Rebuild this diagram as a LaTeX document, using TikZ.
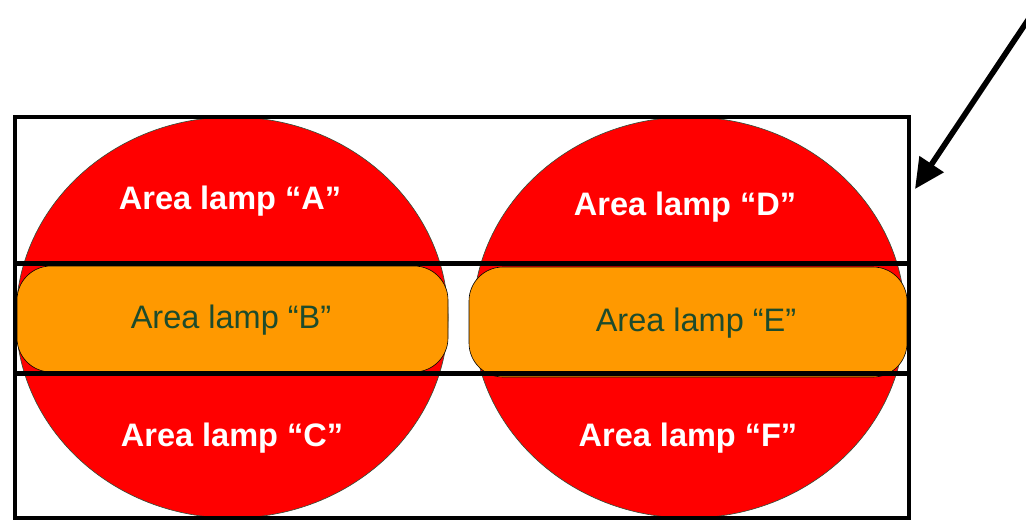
\documentclass[tikz,border=0pt]{standalone}
\usepackage{fontspec}
\setmainfont{Liberation Sans}
\usepackage{xcolor}
\usetikzlibrary{arrows.meta,shapes.geometric}
\definecolor{lampred}{HTML}{FF0000}
\definecolor{lamporange}{HTML}{FF9900}
\definecolor{lampgreen}{HTML}{1D4B2C}
\definecolor{rimgreen}{HTML}{2F4F3A}

\begin{document}
\begin{tikzpicture}[
x=1pt, y=-1pt,
lamp/.style={ellipse, draw=rimgreen, line width=0.6pt, fill=lampred, minimum width=432pt, minimum height=401pt, inner sep=0pt},
strip/.style={draw=black, line width=0.6pt, fill=lamporange, rounded corners=34pt, inner sep=0pt},
boldlbl/.style={text=white, font=\fontsize{32.5}{36}\selectfont\bfseries},
thinlbl/.style={text=lampgreen, font=\fontsize{32.5}{36}\selectfont},
frame/.style={draw=black, line width=4.6pt},
pointer/.style={-{Triangle[length=30pt, width=28pt]}, line width=5.6pt}
]
\useasboundingbox (0,0) rectangle (1026,520);
% the two round lamps
\node[lamp] (lampL) at (232,317.5) {};
\node[lamp] (lampR) at (689,317.5) {};
% middle strips
\node[strip, minimum width=431pt, minimum height=106pt] (stripL) at (232.5,319) {};
\node[strip, minimum width=438pt, minimum height=110pt] (stripR) at (688,322) {};
% labels
\node[boldlbl] (areaA) at (230,201) {Area lamp “A”};
\node[thinlbl] (areaB) at (231,320) {Area lamp “B”};
\node[boldlbl] (areaC) at (232,438) {Area lamp “C”};
\node[boldlbl] (areaD) at (685,207) {Area lamp “D”};
\node[thinlbl] (areaE) at (696,323) {Area lamp “E”};
\node[boldlbl] (areaF) at (688,438) {Area lamp “F”};
% outline and band
\draw[frame] (15,117) rectangle (909,518);
\draw[frame] (15,263.5) rectangle (909,373.5);
% pointer from above
\coordinate (src) at (1040,2);
\coordinate (tip) at (915,189);
\draw[pointer] (src) -- (tip);
\end{tikzpicture}
\end{document}
